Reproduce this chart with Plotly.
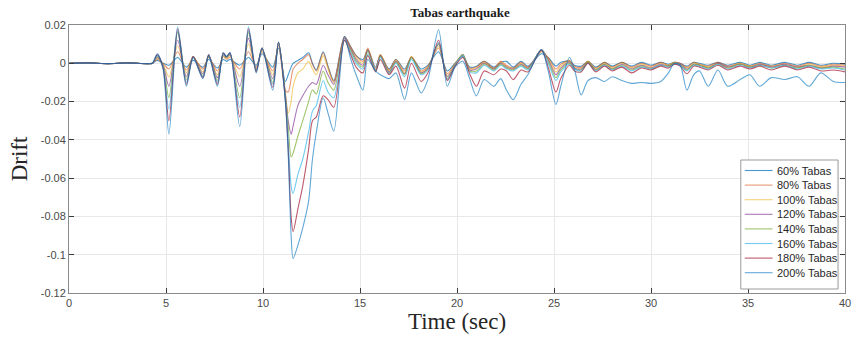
import numpy as np
import plotly.graph_objects as go

# Knot times (sec) of the drift histories
t_knots = [
    0, 1, 2, 3, 4, 4.3,
    4.55, 4.85, 5.15, 5.6, 6.05, 6.4, 6.9, 7.2, 7.65, 7.95, 8.12, 8.3, 8.8, 9.25, 9.65, 9.95, 10.5, 10.8,
    11.15, 11.3, 11.45, 11.55, 11.8, 12.05, 12.35, 12.55, 12.75, 13.1, 13.35, 13.65, 14.2,
    14.5, 14.8, 15.15, 15.4, 15.8, 16.05, 16.5, 16.85, 17.3, 17.65, 18.15, 18.5, 19.05, 19.5, 19.9,
    20.3, 20.65, 21.0, 21.4, 21.9, 22.25, 22.55, 22.9, 23.3, 23.65, 24.35,
    24.7, 25.1, 25.35, 25.8, 26.05, 26.4, 26.75, 27.15, 27.6, 28.0, 28.5, 29.0, 29.5, 30.0, 30.5,
    30.9, 31.2, 31.5, 31.85,
    32.2, 32.5, 32.95, 33.45, 33.95, 34.6, 35.1, 35.6, 36.2, 36.9, 37.55, 38.15, 38.75, 39.4, 40.0,
]

# Drift values in units of 1e-3
drift_60 = [
    0, 0.2, -0.2, 0.2, -0.2, 0,
    1.5, 0, -1, 3, -2, 1.5, -2, 2, -2.5, 2, 1, 2, -1, 3, -1, 5, -2, 8,
    -9.5, -6, -2, 0, 1.5, 3, 5.5, 0, -3.5, 6, -1.5, -9, 14,
    9, 4, 2, 7, -2, 4, -3, 2, -3, 3, -3, -1, 6, -4, 0, 3.5, -2, -1.5, 1, -2, 0.5, 1, -2, 1, -1.5, 5,
    3, -1.5, 0.5, 1, -1, -1.5, 1, -2, 0.5, -1.5, 0.5, -1.5, 0.5, -1, 0.5, -0.5, 0.5, 0, -1.5,
    0.5, 0, -1, 0.5, -1, 0.5, -1, 0.5, -1, 0.5, -1, 0.5, -1, 0, -0.5,
]
drift_80 = [
    0, 0.2, -0.2, 0.2, -0.2, 0,
    2, 0, -3, 6, -3.5, 3, -3, 3, -4, 3.5, 2, 3, -3, 6, -2, 6, -4, 9.5,
    -14, -15, -8, -3, 0, 2, 4.5, -0.5, -4, 5.5, -2, -9.5, 14,
    9, 4, 1, 8, -3, 4.5, -3.5, 2, -4, 3.5, -4, -1.5, 8, -5.5, 0, 4, -2.5, -2, 1, -2.5, 1, -1, -2.5, 0.5, -2, 6,
    3, -3, -0.5, 1.5, -1.5, -2, 1, -2.5, 0.5, -2, 0.5, -2, 0, -1.5, 0.5, -1, 0.5, 0, -2,
    0.5, -0.5, -1.5, 0.5, -1.5, 0, -1.5, 0, -1.5, 0, -1.5, 0, -1.5, -0.5, -1,
]
drift_100 = [
    0, 0.2, -0.2, 0.2, -0.2, 0,
    2.5, -0.5, -7, 9, -5, 3.5, -4.5, 3.5, -6, 4, 2.5, 4, -7, 10, -3, 7, -6, 10.5,
    -15, -26, -20, -12, -5, -3, 1, -3, -6, 4, -3, -10, 13.5,
    8, 3, 0, 7.5, -3.5, 4.5, -4, 1.5, -5, 3.5, -4.5, -2, 9, -6.5, -0.5, 4.5, -3, -2.5, 0.5, -3, 0.5, -1.5, -3, 0, -2.5, 6.5,
    2.5, -4.5, -1.5, 1, -2, -2.5, 1, -3, 0, -2.5, 0, -2.5, -0.5, -2, 0, -1, 0.5, -0.5, -2.5,
    0, -0.5, -2, 0, -2, 0, -1.5, -0.5, -1.5, -0.5, -2, -0.5, -2, -1, -1.5,
]
drift_120 = [
    0, 0.2, -0.2, 0.2, -0.2, 0,
    3, -1, -12, 12, -7, 3.5, -5.5, 4, -7.5, 4.5, 3, 4.5, -12, 13, -3.5, 7.5, -8, 11,
    -16, -30, -37, -33, -22, -17, -12, -10, -11, -1, -6, -11, 13,
    8, 2, -1, 7, -4, 4, -4.5, 1, -5.5, 3, -5, -2.5, 10, -7, -1, 4.5, -3.5, -3, 0, -3, 0, -2, -3, -0.5, -2.5, 7,
    2, -6, -2.5, 0.5, -2.5, -3, 0.5, -3.5, -0.5, -3, -0.5, -3, -1, -2.5, -0.5, -1.5, 0, -0.5, -3,
    -0.5, -1, -2.5, 0, -2, -0.5, -2, -0.5, -2, -0.5, -2, -1, -2.5, -1.5, -2,
]
drift_140 = [
    0, 0.2, -0.2, 0.2, -0.2, 0,
    3.5, -1.5, -18, 16, -8.5, 3.5, -6.5, 4, -9, 5, 3, 5, -18, 16, -4, 8, -10, 11,
    -17, -33, -49, -47, -38, -30, -20, -14, -16, -4, -10, -14, 12,
    7, 1, -2, 6, -4, 3.5, -5, 0.5, -6, 3, -5.5, -3, 10.5, -8, -1, 4.5, -4, -4, -0.5, -3.5, -0.5, -2.5, -3.5, -1, -3, 7,
    1, -7.5, -3.5, 0, -3, -3.5, 0.5, -3.5, -0.5, -3, -1, -3.5, -1.5, -3, -1, -1.5, 0, -1, -3.5,
    -0.5, -1, -2.5, -0.5, -2.5, -0.5, -2, -1, -2.5, -1, -2.5, -1, -2.5, -2, -3,
]
drift_160 = [
    0, 0.2, -0.2, 0.2, -0.2, 0,
    4, -2, -24, 19, -10, 3.5, -7, 4.5, -10, 5, 3.5, 5.5, -23, 19, -4, 8, -11, 11,
    -18, -40, -64, -68, -58, -50, -36, -25, -22, -9, -15, -18, 12,
    6, 0, -3, 5, -4, 3, -5.5, 0, -7, 2, -6, -3.5, 11, -8.5, -1, 4, -4.5, -5, -1, -4, -1, -3, -4, -1.5, -3.5, 7,
    0, -9, -4.5, -0.5, -3, -4, 0, -4, -1, -3.5, -1.5, -4, -2, -3, -1, -2, -0.5, -1, -4,
    -1, -1.5, -3, -0.5, -3, -1, -2.5, -1, -2.5, -1, -3, -1.5, -3, -2.5, -3.5,
]
drift_180 = [
    0, 0.2, -0.2, 0.2, -0.2, 0,
    4.5, -2.5, -30, 18, -11, 3.5, -7.5, 4.5, -11, 5.5, 3.5, 5.5, -28, 18, -4.5, 8, -12.5, 11,
    -19, -45, -80, -88, -76, -64, -45, -30, -28, -17, -19, -23, 12,
    5, -2, -5, 4, -4.5, 2, -6, -1.5, -13, 0, -9.5, -5, 12, -9, -1.5, 3, -5.5, -12, -4, -6, -3, -4, -8.5, -3.5, -4.5, 7,
    -2, -15, -8, -1, -4, -4.5, 0, -4.5, -1.5, -4, -2, -5, -2.5, -3.5, -1.5, -2.5, -0.5, -1.5, -5.5,
    -1.5, -2, -3.5, -1, -3.5, -1.5, -3, -1.5, -3.5, -1.5, -3.5, -2, -4, -3.5, -4.5,
]
drift_200 = [
    0, 0.2, -0.2, 0.2, -0.2, 0,
    5, -3, -37, 17, -12, 3, -8, 4, -12, 5.5, 3.5, 5.5, -33, 17, -5, 8, -14, 11,
    -20, -48, -90, -102, -95, -86, -72, -50, -36, -18, -26, -35.5, 14,
    3, -6, -14, 2, -4, -6, -8, -5, -19, -5, -15.5, -8.5, 17.5, -12, -2, 1, -8, -17, -8.5, -12, -8, -14, -19, -11, -6, 7,
    -4, -21.5, -12, 3, -3, -16.5, -9, -7.5, -9.5, -7, -9, -10.5, -10, -10.5, -9.5, -5, 0, -1, -14,
    -6, -4, -12, -3.5, -12, -8.5, -6, -12, -7.5, -8.5, -7, -12, -5, -9.5, -10,
]

series_names = ["60% Tabas", "80% Tabas", "100% Tabas", "120% Tabas",
                "140% Tabas", "160% Tabas", "180% Tabas", "200% Tabas"]
series_values = [drift_60, drift_80, drift_100, drift_120,
                 drift_140, drift_160, drift_180, drift_200]

# Default MATLAB line colour order (cycles back to the first for the 8th line)
colors = ["rgba(0,114,189,0.72)", "rgba(217,83,25,0.6)", "rgba(237,177,32,0.6)",
          "rgba(126,47,142,0.65)", "rgba(119,172,48,0.7)", "rgba(77,190,238,0.8)",
          "rgba(162,20,47,0.7)", "rgba(0,114,189,0.62)"]

y_ticks = [0.02, 0, -0.02, -0.04, -0.06, -0.08, -0.1, -0.12]
y_tick_text = ["0.02", "0", "-0.02", "-0.04", "-0.06", "-0.08", "-0.1", "-0.12"]
x_ticks = [0, 5, 10, 15, 20, 25, 30, 35, 40]

# Plot-area geometry in pixels
W, H = 859, 339
L, R, T, B = 69, 8, 25, 46
pw, ph = W - L - R, H - T - B


def px(x):
    return (x - L) / pw


def py(y):
    return (H - B - y) / ph


t_arr = np.array(t_knots, dtype=float)
fig = go.Figure()
for name, vals, col in zip(series_names, series_values, colors):
    fig.add_trace(go.Scatter(
        x=t_arr, y=np.array(vals, dtype=float) * 1e-3, name=name, mode="lines",
        line=dict(color=col, width=1.1, shape="spline", smoothing=0.8),
        showlegend=False,
    ))

# Compact boxed legend (lower right, inside the axes)
shapes = [dict(type="rect", xref="paper", yref="paper",
               x0=px(746), x1=px(844), y0=py(289), y1=py(160),
               line=dict(color="#9a9a9a", width=1), fillcolor="white", layer="above")]
annotations = []
for i, (name, col) in enumerate(zip(series_names, colors)):
    yc = 170.5 + 14.6 * i
    shapes.append(dict(type="line", xref="paper", yref="paper",
                       x0=px(750), x1=px(778), y0=py(yc), y1=py(yc),
                       line=dict(color=col, width=1.1), layer="above"))
    annotations.append(dict(xref="paper", yref="paper", x=px(780), y=py(yc),
                            xanchor="left", yanchor="middle", text=name, showarrow=False,
                            font=dict(family="Liberation Sans, Arial", size=11, color="#262626")))

axis_common = dict(
    showline=True, linecolor="#8a8a8a", linewidth=1, mirror="allticks",
    ticks="inside", ticklen=5, tickcolor="#3a3a3a", tickwidth=1,
    showgrid=True, gridcolor="#e8e8e8", gridwidth=1, zeroline=False,
    tickfont=dict(family="Liberation Sans, Arial", size=11, color="#4a4a4a"),
)

fig.update_layout(
    width=W, height=H,
    margin=dict(l=L, r=R, t=T, b=B),
    paper_bgcolor="white", plot_bgcolor="white",
    title=dict(text="<b>Tabas earthquake</b>", x=(L + W - R) / 2 / W, xanchor="center",
               y=1 - 12 / H, yanchor="middle",
               font=dict(family="Liberation Serif, Times New Roman", size=13, color="#1a1a1a")),
    xaxis=dict(range=[0, 40], tickvals=x_ticks,
               title=dict(text="Time (sec)", standoff=3,
                          font=dict(family="Liberation Serif, Times New Roman", size=23, color="#262626")),
               **axis_common),
    yaxis=dict(range=[-0.12, 0.02], tickvals=y_ticks, ticktext=y_tick_text,
               title=dict(text="Drift", standoff=6,
                          font=dict(family="Liberation Serif, Times New Roman", size=23, color="#262626")),
               **axis_common),
    shapes=shapes,
    annotations=annotations,
    showlegend=False,
)

fig.write_html("out.html")
